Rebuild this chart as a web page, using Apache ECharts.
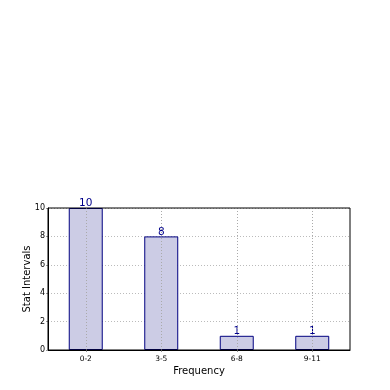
<!DOCTYPE html>
<html>
<head>
<meta charset="utf-8">
<script src="https://cdn.jsdelivr.net/npm/echarts@6/dist/echarts.min.js"></script>
<style>html,body{margin:0;padding:0;background:#fff}#c{width:390px;height:390px}</style>
</head>
<body>
<div id="c"></div>
<script>
const categories = ['0-2', '3-5', '6-8', '9-11'];
const values = [10, 8, 1, 1];
const yTicks = [0, 2, 4, 6, 8, 10];

const chart = echarts.init(document.getElementById('c'), null, {renderer: 'canvas'});
chart.setOption({
  animation: false,
  backgroundColor: '#fff',
  grid: {left: 48, right: 40, top: 208, bottom: 40, show: true, borderColor: '#000', borderWidth: 1, backgroundColor: 'transparent', z: 10},
  xAxis: {
    type: 'category',
    data: categories,
    name: 'Frequency',
    nameLocation: 'middle',
    nameGap: 16,
    nameTextStyle: {fontFamily: 'DejaVu Sans', fontSize: 10, color: '#000'},
    axisLine: {show: true, lineStyle: {color: '#000'}},
    axisTick: {show: true, alignWithLabel: true, inside: false, length: 2, lineStyle: {color: '#999'}},
    axisLabel: {fontFamily: 'DejaVu Sans', fontSize: 7.5, color: '#000', margin: 5},
    splitLine: {show: false}
  },
  yAxis: {
    type: 'value',
    min: 0, max: 10, interval: 2,
    name: 'Stat Intervals',
    nameLocation: 'middle',
    nameGap: 16,
    nameMoveOverlap: false,
    nameTextStyle: {fontFamily: 'DejaVu Sans', fontSize: 10, color: '#000'},
    axisLine: {show: true, lineStyle: {color: '#000'}},
    axisTick: {show: true, inside: false, length: 2, lineStyle: {color: '#999'}},
    axisLabel: {fontFamily: 'DejaVu Sans', fontSize: 8, color: '#000', margin: 3,
      formatter: v => yTicks.includes(v) ? String(v) : ''},
    splitLine: {show: true, lineStyle: {color: '#bbb', type: [1, 2], width: 1}}
  },
  series: [{
    type: 'bar',
    data: values,
    barWidth: '45%',
    itemStyle: {color: '#ccccE5', borderColor: '#000080', borderWidth: 1},
    label: {show: true, position: 'top', distance: -1, color: '#00008B', fontFamily: 'DejaVu Sans', fontSize: 10.5},
    markLine: {
      silent: true,
      symbol: 'none',
      label: {show: false},
      lineStyle: {color: '#aaa', type: [1, 2], width: 1},
      data: categories.map(c => ({xAxis: c}))
    }
  }]
});
</script>
</body>
</html>
